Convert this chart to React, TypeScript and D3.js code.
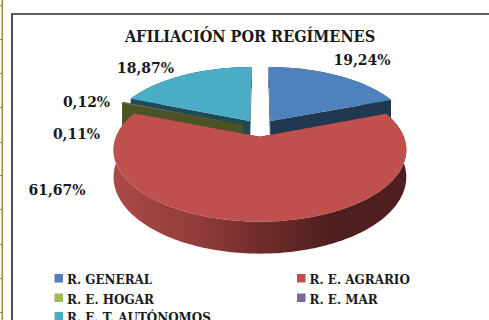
import React from "react";
import * as d3 from "d3";

const categories = ["R. GENERAL", "R. E. AGRARIO", "R. E. HOGAR", "R. E. MAR", "R. E. T. AUTÓNOMOS"];
const values = [19.24, 61.67, 0.11, 0.12, 18.87];
const valueLabels = ["19,24%", "61,67%", "0,11%", "0,12%", "18,87%"];
const topColors = ["#4f81bd", "#c0504d", "#9bbb59", "#8064a2", "#4bacc6"];
const wallColors = ["#203850", "#4e1f1e", "#4a5423", "#3b2e4c", "#1f4a56"];
const labelPos: [number, number][] = [[362, 65], [57, 195], [76.5, 139], [86.5, 107], [145.5, 73]];
const legendPos: [number, number][] = [[54.5, 284], [297, 284], [54.5, 303.5], [297, 303.5], [54.5, 322]];
const gridYs = [5, 39, 73, 107, 142, 175, 209, 244, 278, 312];

const W = 489, H = 320;
const x0 = 260, y0 = 128, B = 140.5, A = 66, k = 0.18, explode = 0.13, depth = 25.5;

const project = (X: number, Z: number, h = 0): [number, number] => {
  const s = 1 + k * Z;
  return [x0 + (B * X) / s, y0 - (A * Z) / s + (h * depth) / s];
};

export default function App() {
  const arcs = d3.pie<number>().value((d) => d).sort(null).startAngle(0).endAngle(2 * Math.PI)(values);
  const geo = arcs.map((a) => {
    const mid = (a.startAngle + a.endAngle) / 2;
    const ox = explode * Math.sin(mid), oz = explode * Math.cos(mid);
    const at = (t: number, r: number, h = 0) => project(ox + r * Math.sin(t), oz + r * Math.cos(t), h);
    const n = Math.max(2, Math.ceil((a.endAngle - a.startAngle) / 0.02));
    const ts = d3.range(n + 1).map((i) => a.startAngle + ((a.endAngle - a.startAngle) * i) / n);
    return { a, at, ts };
  });
  const line = d3.line();
  const closed = (p: [number, number][]) => (line(p) || "") + "Z";
  const drawOrder = [0, 4, 3, 2, 1];
  const font = "'DejaVu Serif Condensed', 'DejaVu Serif', serif";
  return (
    <svg width={W} height={H} style={{ position: "absolute", left: 0, top: 0, background: "#fff" }}>
      <defs>
        <linearGradient id="rim" gradientUnits="userSpaceOnUse" x1="113" x2="407" y1="0" y2="0">
          <stop offset="0" stopColor="#ab4a46" />
          <stop offset="0.3" stopColor="#8f3b39" />
          <stop offset="0.5" stopColor="#702c2b" />
          <stop offset="0.75" stopColor="#4e1f1e" />
          <stop offset="1" stopColor="#4e1f1e" />
        </linearGradient>
      </defs>
      <line x1={2.3} x2={2.3} y1={0} y2={H} stroke="#a97b3c" strokeWidth={1.5} />
      {gridYs.map((y) => (
        <line key={y} x1={0} x2={2} y1={y + 0.5} y2={y + 0.5} stroke="#a97b3c" />
      ))}
      <path d={`M12 ${H}V14H${W}`} fill="none" stroke="#303030" strokeWidth={1.7} />
      {drawOrder.map((i) => {
        const { a, at, ts } = geo[i];
        const rimPts = [...ts.map((t) => at(t, 1, 0)), ...ts.slice().reverse().map((t) => at(t, 1, 1))];
        const wall = (t: number) => closed([at(t, 0, 0), at(t, 1, 0), at(t, 1, 1), at(t, 0, 1)]);
        const fillW = i === 1 ? "url(#rim)" : wallColors[i];
        return (
          <g key={i}>
            <path d={wall(a.startAngle)} fill={wallColors[i]} />
            <path d={wall(a.endAngle)} fill={wallColors[i]} />
            <path d={closed(rimPts)} fill={fillW} />
            <path d={closed([at(0, 0, 0), ...ts.map((t) => at(t, 1, 0))])} fill={topColors[i]} />
          </g>
        );
      })}
      <text x={250} y={41.5} textAnchor="middle" fontFamily={font} fontWeight="bold" fontSize={16.1} fill="#1a1a1a">
        AFILIACIÓN POR REGÍMENES
      </text>
      {valueLabels.map((t, i) => (
        <text key={t} x={labelPos[i][0]} y={labelPos[i][1]} textAnchor="middle" fontFamily={font} fontWeight="bold" fontSize={15.5} fill="#1a1a1a">
          {t}
        </text>
      ))}
      {categories.map((c, i) => (
        <g key={c}>
          <rect x={legendPos[i][0]} y={legendPos[i][1] - 10} width={8.5} height={8.5} fill={topColors[i]} />
          <text x={legendPos[i][0] + 12.5} y={legendPos[i][1]} fontFamily={font} fontWeight="bold" fontSize={13.3} fill="#1a1a1a">
            {c}
          </text>
        </g>
      ))}
    </svg>
  );
}
